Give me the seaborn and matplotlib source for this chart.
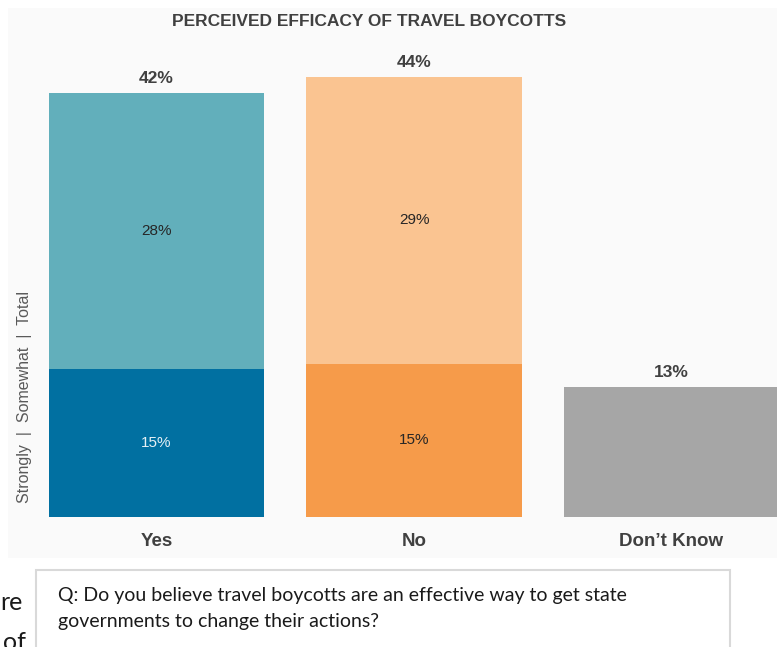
import matplotlib
matplotlib.use("Agg")
import matplotlib.pyplot as plt
import matplotlib.transforms as mtransforms
from matplotlib.patches import Rectangle
import pandas as pd
import seaborn as sns

# Survey results (percent of respondents)
categories = ["Yes", "No", "Don\u2019t Know"]
strongly = [14.8, 15.3]          # Yes, No
somewhat = [27.6, 28.7]          # Yes, No
dont_know = 13.0
totals = [strongly[0] + somewhat[0], strongly[1] + somewhat[1], dont_know]

title = "PERCEIVED EFFICACY OF TRAVEL BOYCOTTS"
side_label = "Strongly  |  Somewhat  |  Total"
question_lines = ["Q: Do you believe travel boycotts are an effective way to get state",
                  "governments to change their actions?"]

somewhat_colors = {"Yes": "#62AFBB", "No": "#FAC491", "Don\u2019t Know": "#A6A6A6"}
strongly_colors = {"Yes": "#0170A1", "No": "#F69B4A"}

sns.set_theme(style="white")
plt.rcParams["font.family"] = ["Liberation Sans", "DejaVu Sans"]

W, H = 777, 647
fig = plt.figure(figsize=(W / 100, H / 100), dpi=100)
fig.patch.set_facecolor("white")

# chart panel
px_l, px_r, px_t, px_b = 8, 777, 8, 558
ax = fig.add_axes([px_l / W, 1 - px_b / H, (px_r - px_l) / W, (px_b - px_t) / H])
ax.set_facecolor("#FAFAFA")

df_tot = pd.DataFrame({"category": categories, "value": totals})
df_str = pd.DataFrame({"category": categories[:2], "value": strongly})

sns.barplot(data=df_tot, x="category", y="value", hue="category", order=categories,
            palette=somewhat_colors, width=0.835, saturation=1, legend=False,
            linewidth=0, ax=ax)
sns.barplot(data=df_str, x="category", y="value", hue="category", order=categories,
            palette=strongly_colors, width=0.835, saturation=1, legend=False,
            linewidth=0, ax=ax)

# axis limits: 10 px per percentage point, baseline at y=517 px
bar_step = 257.5
x0_center = 156.5
ax.set_xlim((px_l - x0_center) / bar_step, (px_r - x0_center) / bar_step)
ax.set_ylim(-(px_b - 517) / 10, (517 - px_t) / 10)

for s in ax.spines.values():
    s.set_visible(False)
ax.set_yticks([])
ax.set_xticks([])
ax.set_xlabel("")
ax.set_ylabel("")

# category names just under the baseline
for i, name in enumerate(categories):
    ax.text(i, -2.4, name, ha="center", va="center", fontsize=13.5,
            fontweight="bold", color="#404040")

# value labels
for i, t in enumerate(totals):
    ax.annotate(f"{t:.0f}%", (i, t), xytext=(0, 5), textcoords="offset points",
                ha="center", va="bottom", fontsize=12.5, fontweight="bold",
                color="#404040")
for i in range(2):
    ax.text(i, strongly[i] / 2, f"{strongly[i]:.0f}%", ha="center", va="center",
            fontsize=11, color="#E6F0F5" if i == 0 else "#262626")
    ax.text(i, strongly[i] + somewhat[i] / 2, f"{somewhat[i]:.0f}%", ha="center",
            va="center", fontsize=11, color="#262626")

side_tr = mtransforms.blended_transform_factory(ax.transAxes, ax.transData)
ax.text((25 - px_l) / (px_r - px_l), 12, side_label, rotation=90, ha="center",
        va="center", fontsize=11.5, color="#595959", transform=side_tr)

fig.text(369 / W, 1 - 21 / H, title, ha="center", va="center", fontsize=12.5,
         fontweight="bold", color="#404040")

# question box below the chart
box = Rectangle((36 / W, -0.05), (730 - 36) / W, 0.05 + (647 - 570) / H,
                transform=fig.transFigure, facecolor="white", edgecolor="#D9D9D9",
                linewidth=1.5)
fig.patches.append(box)
for k, line in enumerate(question_lines):
    fig.text(58 / W, 1 - (595 + 26 * k) / H, line, ha="left", va="center",
             fontsize=14, color="#1A1A1A", family=["Lato", "DejaVu Sans"])

# surrounding page text fragments
fig.text(0 / W, 1 - 602 / H, "re", ha="left", va="center", fontsize=18,
         color="#1A1A1A", family=["Lato", "DejaVu Sans"])
fig.text(3 / W, 1 - 642 / H, "of", ha="left", va="center", fontsize=18,
         color="#1A1A1A", family=["Lato", "DejaVu Sans"])

fig.savefig("out.png", dpi=100, facecolor="white")
